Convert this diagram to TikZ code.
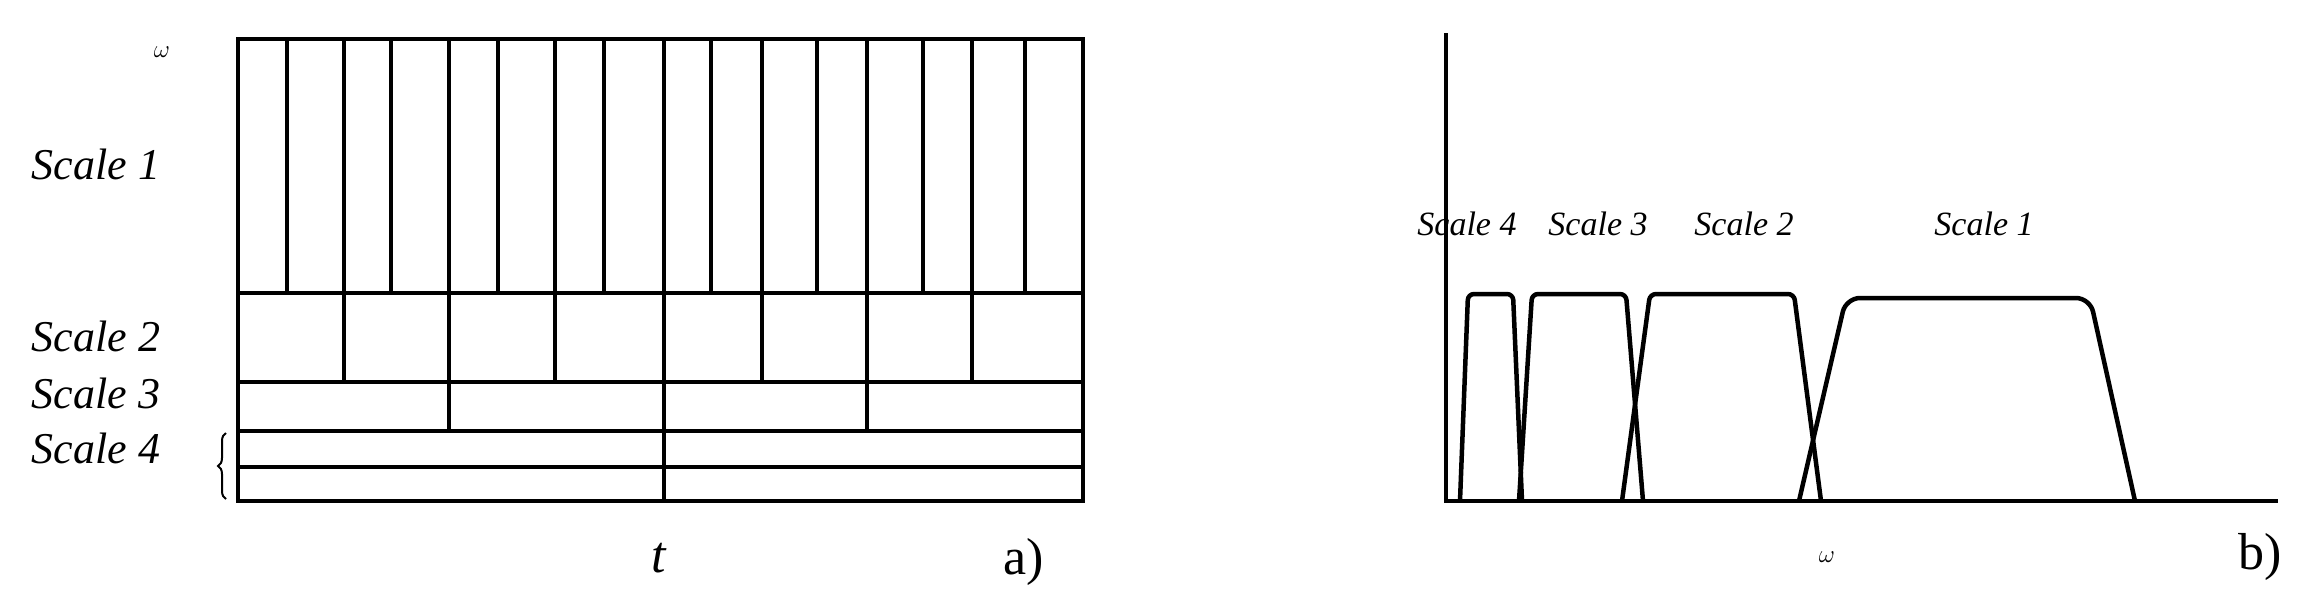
\documentclass[tikz,border=0pt]{standalone}
\usepackage{fontspec}
\setmainfont{Liberation Serif}
\usetikzlibrary{decorations.pathreplacing}
\begin{document}
\begin{tikzpicture}[x=1pt,y=-1pt,line width=3.5pt,
 lab/.style={font=\fontsize{44}{50}\selectfont\itshape,inner sep=0pt},
 slab/.style={font=\fontsize{34}{40}\selectfont\itshape,inner sep=0pt},
 big/.style={font=\fontsize{52}{60}\selectfont,inner sep=0pt},
 curve/.style={line width=4.5pt,line join=round,rounded corners=6pt}]
\useasboundingbox (0,0) rectangle (2322,611);
% panel a
\draw (238,39) rectangle (1083,501);
\foreach \y in {293,382,431,467} \draw (238,\y) -- (1083,\y);
\foreach \x in {287,344,391,449,498,555,604,664,711,762,817,867,923,972,1025} \draw (\x,39) -- (\x,293);
\foreach \x in {344,449,555,664,762,867,972} \draw (\x,293) -- (\x,382);
\foreach \x in {449,664,867} \draw (\x,382) -- (\x,431);
\draw (664,431) -- (664,501);
\draw[line width=2pt,decorate,decoration={brace,amplitude=8pt}] (226,499) -- (226,433);
\node[lab,font=\fontsize{52}{60}\selectfont\itshape] (om) at (162,52) {$\omega$};
\node[lab,anchor=west] (s1) at (30,164) {Scale 1};
\node[lab,anchor=west] (s2) at (30,336) {Scale 2};
\node[lab,anchor=west] (s3) at (30,393) {Scale 3};
\node[lab,anchor=west] (s4) at (30,448) {Scale 4};
\node[big,font=\fontsize{52}{60}\selectfont\itshape] (t) at (659,558) {t};
\node[big] (a) at (1024,562) {a)};
% panel b
\draw (1446,33) -- (1446,501) -- (2278,501);
\draw[curve] (1460,501) -- (1468,294) -- (1513,294) -- (1522,501);
\draw[curve] (1519,501) -- (1532,294) -- (1626,294) -- (1643,501);
\draw[curve] (1622,501) -- (1650,294) -- (1794,294) -- (1821,501);
\draw[curve,rounded corners=14pt] (1799,501) -- (1846,298) -- (2090,298) -- (2135,501);
\node[slab] (b4) at (1467,224) {Scale 4};
\node[slab] (b3) at (1598,224) {Scale 3};
\node[slab] (b2) at (1744,224) {Scale 2};
\node[slab] (b1) at (1984,224) {Scale 1};
\node[big,font=\fontsize{52}{60}\selectfont] (w) at (1827,557) {$\omega$};
\node[big] (b) at (2260,557) {b)};
\end{tikzpicture}
\end{document}
